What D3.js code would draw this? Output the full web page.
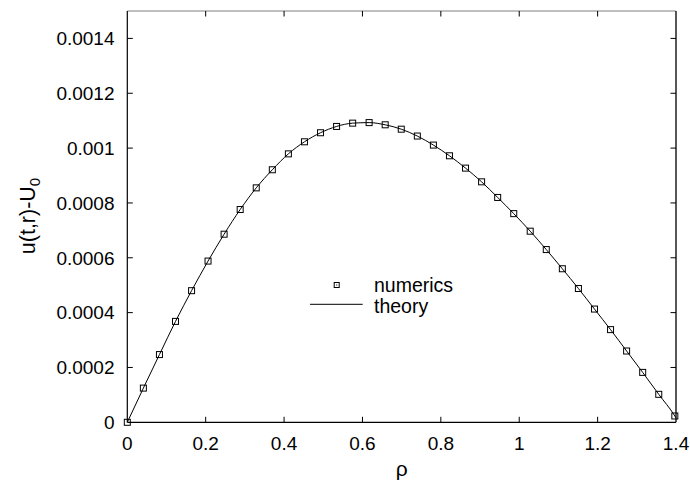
<!DOCTYPE html>
<html>
<head>
<meta charset="utf-8">
<script src="https://d3js.org/d3.v7.min.js"></script>
<style>
  html, body { margin: 0; padding: 0; background: #fff; }
  svg { display: block; font-family: "Liberation Sans", Arial, Helvetica, sans-serif; }
</style>
</head>
<body>
<svg id="chart" width="690" height="485"></svg>
<script>
// ---- data ----
const rho = [0, 0.041, 0.082, 0.123, 0.164, 0.206, 0.247, 0.288, 0.329, 0.370,
             0.411, 0.452, 0.493, 0.534, 0.575, 0.617, 0.658, 0.699, 0.740, 0.781,
             0.822, 0.863, 0.904, 0.945, 0.986, 1.028, 1.069, 1.110, 1.151, 1.192,
             1.233, 1.274, 1.315, 1.356, 1.397];
const numerics = [0, 0.0001247, 0.000247, 0.000368, 0.00048, 0.000588, 0.000686, 0.000776, 0.000855, 0.000921,
                  0.000979, 0.001023, 0.001056, 0.001079, 0.001091, 0.001093, 0.001085, 0.001069, 0.001044, 0.001011,
                  0.000972, 0.000927, 0.000877, 0.00082, 0.000761, 0.000697, 0.00063, 0.00056, 0.000488, 0.000413,
                  0.000338, 0.00026, 0.000182, 0.000102, 0.000023];
const theoryRho = [0, 0.041, 0.082, 0.123, 0.164, 0.206, 0.247, 0.288, 0.329, 0.370,
                   0.411, 0.452, 0.493, 0.534, 0.575, 0.617, 0.658, 0.699, 0.740, 0.781,
                   0.822, 0.863, 0.904, 0.945, 0.986, 1.028, 1.069, 1.110, 1.151, 1.192,
                   1.233, 1.274, 1.315, 1.356, 1.397, 1.4];
const theory = [0, 0.0001247, 0.000247, 0.000368, 0.00048, 0.000588, 0.000686, 0.000776, 0.000855, 0.000921,
                0.000979, 0.001023, 0.001056, 0.001079, 0.001091, 0.001093, 0.001085, 0.001069, 0.001044, 0.001011,
                0.000972, 0.000927, 0.000877, 0.00082, 0.000761, 0.000697, 0.00063, 0.00056, 0.000488, 0.000413,
                0.000338, 0.00026, 0.000182, 0.000102, 0.000023, 0.000016];
const xTicks = [0, 0.2, 0.4, 0.6, 0.8, 1.0, 1.2, 1.4];
const xTickLabels = ["0", "0.2", "0.4", "0.6", "0.8", "1", "1.2", "1.4"];
const yTicks = [0, 0.0002, 0.0004, 0.0006, 0.0008, 0.001, 0.0012, 0.0014];
const yTickLabels = ["0", "0.0002", "0.0004", "0.0006", "0.0008", "0.001", "0.0012", "0.0014"];
const seriesNames = ["numerics", "theory"];

// ---- layout ----
const svg = d3.select("#chart");
const L = 127.3, R = 676, T = 11, B = 422.3;
const x = d3.scaleLinear().domain([0, 1.4]).range([L, R]);
const y = d3.scaleLinear().domain([0, 0.0015]).range([B, T]);
const fs = 19;

// frame
svg.append("line").attr("x1", L).attr("x2", R).attr("y1", T).attr("y2", T)
  .attr("stroke", "#808080").attr("stroke-width", 1.2);
svg.append("line").attr("x1", R).attr("x2", R).attr("y1", T).attr("y2", B)
  .attr("stroke", "#111").attr("stroke-width", 1.4);
svg.append("line").attr("x1", L).attr("x2", L).attr("y1", T).attr("y2", B)
  .attr("stroke", "#000").attr("stroke-width", 1.2);
svg.append("line").attr("x1", L).attr("x2", R).attr("y1", B).attr("y2", B)
  .attr("stroke", "#000").attr("stroke-width", 1.2);

// ticks (inside) on all sides
const tk = 5.5;
const gx = svg.append("g");
xTicks.forEach((t, i) => {
  const px = x(t);
  if (i > 0 && i < xTicks.length - 1) {
    gx.append("line").attr("x1", px).attr("x2", px).attr("y1", B).attr("y2", B - tk)
      .attr("stroke", "#000").attr("stroke-width", 1);
    gx.append("line").attr("x1", px).attr("x2", px).attr("y1", T).attr("y2", T + tk)
      .attr("stroke", "#000").attr("stroke-width", 1);
  }
  gx.append("text").attr("x", px).attr("y", 449.5).attr("text-anchor", "middle")
    .attr("font-size", fs).attr("fill", "#000").text(xTickLabels[i]);
});
const gy = svg.append("g");
yTicks.forEach((t, i) => {
  const py = y(t);
  if (i > 0) {
    gy.append("line").attr("x1", L).attr("x2", L + tk).attr("y1", py).attr("y2", py)
      .attr("stroke", "#000").attr("stroke-width", 1);
    gy.append("line").attr("x1", R).attr("x2", R - tk).attr("y1", py).attr("y2", py)
      .attr("stroke", "#000").attr("stroke-width", 1);
  }
  gy.append("text").attr("x", 114.5).attr("y", py + 6.8).attr("text-anchor", "end")
    .attr("font-size", fs).attr("fill", "#000").text(yTickLabels[i]);
});

// axis titles
svg.append("text").attr("x", x(0.7)).attr("y", 476).attr("text-anchor", "middle")
  .attr("font-size", 21).attr("fill", "#000").text("ρ");
const yl = svg.append("text").attr("transform", "translate(35,216) rotate(-90)")
  .attr("text-anchor", "middle").attr("font-size", 21.5).attr("fill", "#000");
yl.append("tspan").text("u(t,r)-U");
yl.append("tspan").attr("font-size", 15).attr("dy", 5).text("0");

// theory line
const tdata = theoryRho.map((r, i) => [r, theory[i]]);
svg.append("path").datum(tdata)
  .attr("d", d3.line().x(d => x(d[0])).y(d => y(d[1])).curve(d3.curveMonotoneX))
  .attr("fill", "none").attr("stroke", "#000").attr("stroke-width", 1);

// numerics markers
const ms = 6;
const ndata = rho.map((r, i) => [r, numerics[i]]);
const mg = svg.append("g");
mg.selectAll("rect").data(ndata).join("rect")
  .attr("x", d => x(d[0]) - ms / 2).attr("y", d => y(d[1]) - ms / 2)
  .attr("width", ms).attr("height", ms)
  .attr("fill", "none").attr("stroke", "#000").attr("stroke-width", 1);

// legend
const lg = svg.append("g");
lg.append("rect").attr("x", 336.7 - 2.5).attr("y", 285 - 2.5).attr("width", 5).attr("height", 5)
  .attr("fill", "none").attr("stroke", "#000").attr("stroke-width", 1);
lg.append("rect").attr("x", 336.2).attr("y", 284.5).attr("width", 1).attr("height", 1).attr("fill", "#000");
lg.append("text").attr("x", 374).attr("y", 292).attr("font-size", 19.5).attr("fill", "#000").text(seriesNames[0]);
lg.append("line").attr("x1", 310).attr("x2", 362.7).attr("y1", 304.3).attr("y2", 304.3)
  .attr("stroke", "#000").attr("stroke-width", 1);
lg.append("text").attr("x", 374).attr("y", 313).attr("font-size", 19.5).attr("fill", "#000").text(seriesNames[1]);
</script>
</body>
</html>
